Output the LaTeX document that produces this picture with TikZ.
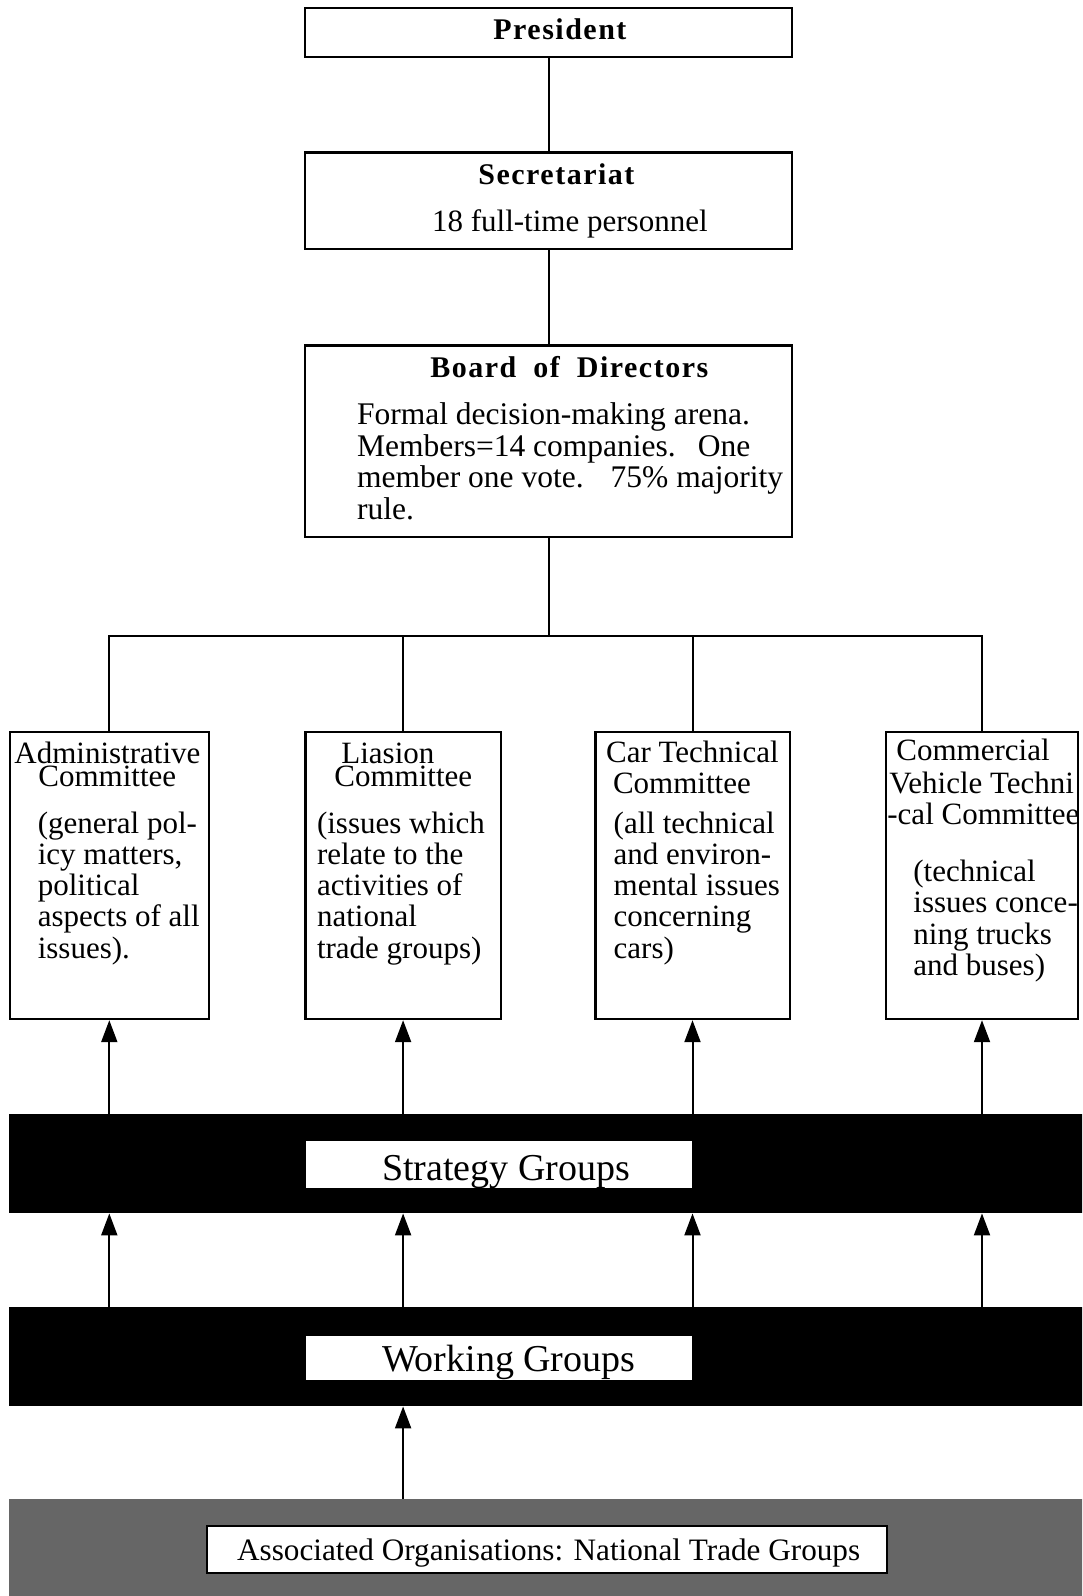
\documentclass[tikz,border=0pt]{standalone}
\usepackage{fontspec}
\setmainfont{Liberation Serif}
\usetikzlibrary{arrows.meta}
\begin{document}
\begin{tikzpicture}[x=0.5pt,y=-0.5pt,
  box/.style={draw, line width=1.2pt, inner sep=0pt, fill=white},
  bar/.style={draw=none, fill=black, inner sep=0pt},
  shadebar/.style={draw=none, fill=black!60, inner sep=0pt},
  lbl/.style={draw=none, fill=white, inner sep=0pt},
  ctxt/.style={inner sep=0pt, anchor=base west, align=left, font=\fontsize{15.5pt}{15.65pt}\selectfont},
  btxt/.style={inner sep=0pt, anchor=base west, align=left, font=\fontsize{15.75pt}{15.75pt}\selectfont},
  hd/.style={inner sep=0pt, anchor=base west, font=\fontsize{15pt}{18pt}\selectfont\bfseries\addfontfeatures{LetterSpace=5}},
  big/.style={inner sep=0pt, anchor=base west, font=\fontsize{19pt}{22pt}\selectfont},
  ln/.style={line width=1pt},
  arr/.style={line width=1pt, -{Triangle[length=11pt,width=8pt]}}
]
\useasboundingbox (0,0) rectangle (1082,1596);
\clip (0,0) rectangle (1082,1596);
\fill[white] (0,0) rectangle (1082,1596);

% top boxes
\node[box, minimum width=243.5pt, minimum height=24.5pt] (pres) at (548.5,32.3) {};
\node[box, minimum width=243.5pt, minimum height=48.25pt] (sec) at (548.5,200.9) {};
\node[box, minimum width=243.5pt, minimum height=95.6pt] (board) at (548.5,441.2) {};

\node[hd] (prest) at (493,39.3) {President};
\node[hd] (sect) at (478,184) {Secretariat};
\node[inner sep=0pt, anchor=base west, font=\fontsize{15.5pt}{15.5pt}\selectfont] (sect2) at (431.7,231.6) {18 full-time personnel};
\node[hd] (boardt) at (430,377) {Board\hspace*{8.5pt}of\hspace*{8.5pt}Directors};
% multi-line nodes: base anchor = baseline of last line
\node[btxt] (boardb) at (356.7,519.1) {Formal decision-making arena.\\Members=14 companies.\hspace*{11pt}One\\member one vote.\hspace*{13.5pt}75\% majority\\rule.};

% committees
\node[box, minimum width=99.5pt, minimum height=143.5pt] (adm) at (109.3,875.5) {};
\node[box, minimum width=97.6pt, minimum height=143.5pt] (lia) at (403.1,875.5) {};
\node[box, minimum width=97.2pt, minimum height=143.5pt] (car) at (692.5,875.5) {};
\node[box, minimum width=96pt, minimum height=143.5pt] (com) at (982,875.5) {};

\node[ctxt] (adm1) at (14,763) {Administrative};
\node[ctxt] (adm2) at (38,786) {Committee};
\node[ctxt] (adm3) at (37.4,958.2) {(general pol-\\icy matters,\\political\\aspects of all\\issues).};

\node[ctxt] (lia1) at (341,763) {Liasion};
\node[ctxt] (lia2) at (334,786) {Committee};
\node[ctxt] (lia3) at (316.6,958.2) {(issues which\\relate to the\\activities of\\national\\trade groups)};

\node[ctxt] (car1) at (605.7,762) {Car Technical};
\node[ctxt] (car2) at (612.6,793) {Committee};
\node[ctxt] (car3) at (613.3,958.2) {(all technical\\and environ-\\mental issues\\concerning\\cars)};

\node[ctxt] (com1) at (896,760) {Commercial};
\node[ctxt] (com2) at (889,793) {Vehicle Techni};
\node[ctxt] (com3) at (887,824) {-cal Committee};
\node[ctxt] (com4) at (913,975.4) {(technical\\issues conce-\\ning trucks\\and buses)};

% connectors top
\coordinate (bus) at (548.5,636);
\draw[ln] (pres) -- (sec);
\draw[ln] (sec) -- (board);
\draw[ln] (board.south) -- (bus);
\draw[ln] (adm.north) -- (adm.north |- bus) -- (com.north |- bus) -- (com.north);
\draw[ln] (lia.north) -- (lia.north |- bus);
\draw[ln] (car.north) -- (car.north |- bus);

% bars
\node[bar, minimum width=541pt, minimum height=49.5pt] (sg) at (549.5,1163.5) {};
\node[lbl, minimum width=193pt, minimum height=23.5pt] (sgl) at (499,1164.5) {};
\node[big] (sgt) at (381.6,1180) {Strategy Groups};

\node[bar, minimum width=541pt, minimum height=49.5pt] (wg) at (549.5,1356.5) {};
\node[lbl, minimum width=193pt, minimum height=22.25pt] (wgl) at (499,1357.75) {};
\node[big] (wgt) at (381.6,1371.7) {Working Groups};

\node[shadebar, minimum width=541pt, minimum height=50.5pt] (as) at (549.5,1549.5) {};
\node[lbl, draw=black, line width=1.2pt, minimum width=340pt, minimum height=23.5pt] (asl) at (547,1549.5) {};
\node[inner sep=0pt, anchor=base west, font=\fontsize{15.6pt}{18pt}\selectfont] (ast) at (236.7,1560) {Associated Organisations: National Trade Groups};

% arrows
\foreach \n in {adm,lia,car,com} {
  \draw[arr] (sg.north -| \n.south) -- (\n.south);
  \draw[arr] (wg.north -| \n.south) -- (sg.south -| \n.south);
}
\draw[arr] (as.north -| lia.south) -- (wg.south -| lia.south);
\end{tikzpicture}
\end{document}
